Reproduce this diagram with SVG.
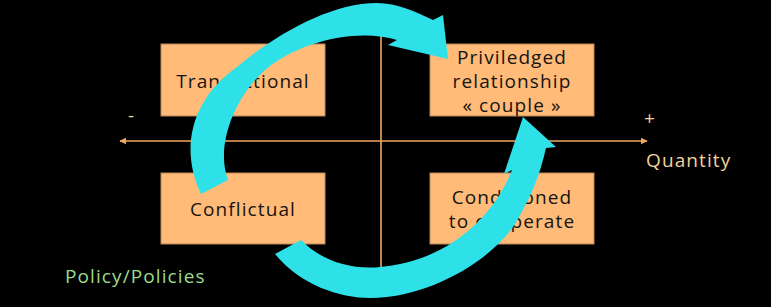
<svg xmlns="http://www.w3.org/2000/svg" width="771" height="307" viewBox="0 0 771 307">
  <style>
    .box { fill: #FFBB77; stroke: #B8875A; stroke-width: 1; }
    .btxt { font-family: "Open Sans", "Liberation Sans", sans-serif; font-size: 19px; letter-spacing: 1.1px; fill: #141414; text-anchor: middle; }
    .axis { stroke: #F2A862; stroke-width: 1.6; fill: none; }
    .cyc { fill: #2EE0E8; }
    .lbl { font-family: "Open Sans", "Liberation Sans", sans-serif; font-size: 19px; letter-spacing: 1.1px; }
  </style>
  <defs>
    <marker id="ah" viewBox="0 0 10 10" refX="9" refY="5" markerWidth="7" markerHeight="7" markerUnits="userSpaceOnUse" orient="auto-start-reverse">
      <path d="M0,0 L10,5 L0,10 z" fill="#F2A862"/>
    </marker>
  </defs>
  <rect x="0" y="0" width="771" height="307" fill="#000000"/>

  <g id="axes">
    <line class="axis" x1="120" y1="141" x2="647" y2="141" marker-start="url(#ah)" marker-end="url(#ah)"/>
    <line class="axis" x1="381" y1="30" x2="381" y2="268"/>
    <text class="lbl" x="131.5" y="122" fill="#F3D29A" text-anchor="middle">-</text>
    <text class="lbl" x="650" y="125" fill="#F3D29A" text-anchor="middle">+</text>
    <text class="lbl" x="646" y="167" fill="#F3D29A">Quantity</text>
  </g>

  <g id="node-transactional">
    <rect class="box" x="161" y="44" width="164" height="72"/>
    <text class="btxt" x="243" y="87.5">Transactional</text>
  </g>
  <g id="node-priviledged">
    <rect class="box" x="430" y="44" width="164" height="72"/>
    <text class="btxt" x="512" y="63.5">Priviledged</text>
    <text class="btxt" x="512" y="87.5">relationship</text>
    <text class="btxt" x="512" y="111.5">« couple »</text>
  </g>
  <g id="node-conflictual">
    <rect class="box" x="161" y="173" width="164" height="71"/>
    <text class="btxt" x="243" y="215.5">Conflictual</text>
  </g>
  <g id="node-conditioned">
    <rect class="box" x="430" y="173" width="164" height="71"/>
    <text class="btxt" x="512" y="203.5">Conditioned</text>
    <text class="btxt" x="512" y="227.5">to cooperate</text>
  </g>

  <g id="connectors">
    <path class="cyc" d="M201,194 C180,150 190,100 237,67 C275,35 330,3 377,3 C397,3 416,12 433,20 L443,15 L448,59 L388,45 L397,40 C360,28 300,40 265,70 C235,97 215,145 228,180 Z"/>
    <path class="cyc" d="M275,254 C300,285 340,298 370,298 C430,298 490,260 513,227 C530,200 540,175 546,148 L556,147 L523,117 L504,174 L512,170 C490,225 440,262 380,267 C350,270 320,260 301,240 Z"/>
  </g>

  <g id="label-policy">
    <text class="lbl" x="65" y="282.5" fill="#9BDB8C">Policy/Policies</text>
  </g>
</svg>
